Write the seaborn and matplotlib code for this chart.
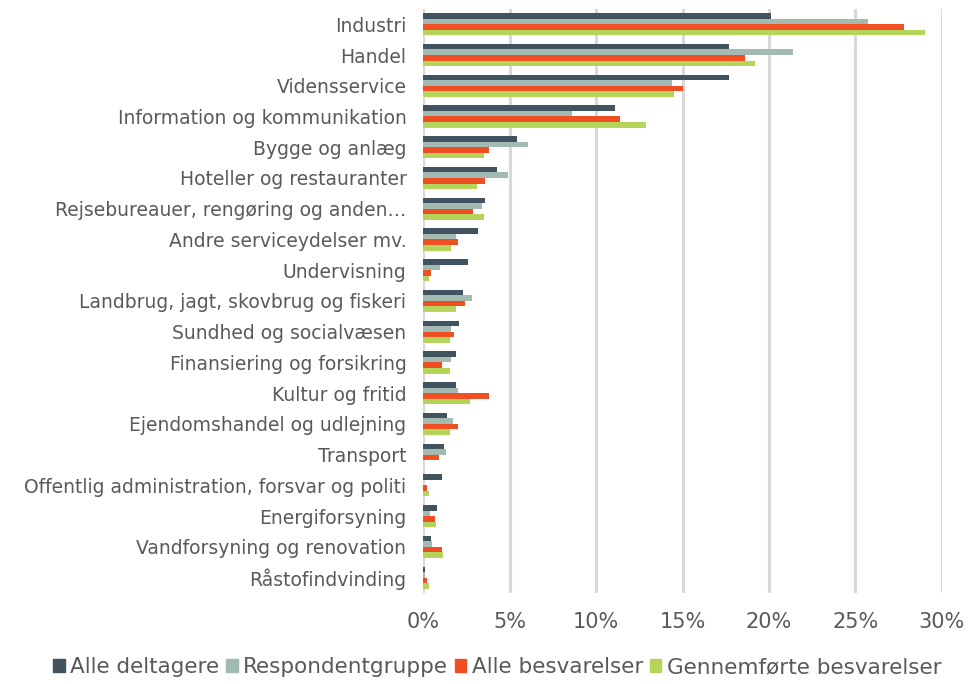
import matplotlib
matplotlib.use("Agg")
import matplotlib.pyplot as plt
import matplotlib.ticker as mticker
import pandas as pd
import seaborn as sns

categories = [
    "Industri", "Handel", "Vidensservice", "Information og kommunikation",
    "Bygge og anlæg", "Hoteller og restauranter",
    "Rejsebureauer, rengøring og anden…", "Andre serviceydelser mv.",
    "Undervisning", "Landbrug, jagt, skovbrug og fiskeri",
    "Sundhed og socialvæsen", "Finansiering og forsikring",
    "Kultur og fritid", "Ejendomshandel og udlejning", "Transport",
    "Offentlig administration, forsvar og politi", "Energiforsyning",
    "Vandforsyning og renovation", "Råstofindvinding",
]
series = ["Alle deltagere", "Respondentgruppe", "Alle besvarelser",
          "Gennemførte besvarelser"]

alle_deltagere = [20.1, 17.7, 17.7, 11.1, 5.4, 4.3, 3.6, 3.2, 2.6, 2.3,
                  2.1, 1.9, 1.9, 1.4, 1.2, 1.1, 0.8, 0.45, 0.08]
respondentgruppe = [25.7, 21.4, 14.4, 8.6, 6.05, 4.9, 3.4, 1.9, 1.0, 2.8,
                    1.6, 1.6, 2.0, 1.7, 1.3, 0.0, 0.4, 0.5, 0.1]
alle_besvarelser = [27.8, 18.6, 15.0, 11.4, 3.8, 3.6, 2.9, 2.0, 0.45, 2.4,
                    1.8, 1.1, 3.8, 2.0, 0.9, 0.2, 0.67, 1.1, 0.2]
gennemforte = [29.0, 19.2, 14.5, 12.9, 3.5, 3.1, 3.5, 1.6, 0.35, 1.9,
               1.55, 1.55, 2.7, 1.55, 0.0, 0.35, 0.75, 1.15, 0.35]

colors = ["#41535f", "#a2bab2", "#f04e23", "#b4d45a"]

values = [alle_deltagere, respondentgruppe, alle_besvarelser, gennemforte]
rows = []
for s, vals in zip(series, values):
    for c, v in zip(categories, vals):
        rows.append({"kategori": c, "serie": s, "andel": v})
df = pd.DataFrame(rows)

sns.set_style("white")
plt.rcParams["font.family"] = ["DejaVu Sans"]

fig = plt.figure(figsize=(9.75, 6.84), dpi=100)
ax = fig.add_axes([0.434, 0.133, 0.532, 0.854])

sns.barplot(data=df, y="kategori", x="andel", hue="serie", order=categories,
            hue_order=series, palette=colors, orient="h", width=0.72,
            saturation=1, linewidth=0, ax=ax, legend=False)

ax.set_xlim(0, 30)
ax.set_xticks(range(0, 31, 5))
ax.xaxis.set_major_formatter(mticker.FuncFormatter(lambda v, p: f"{v:.0f}%"))
ax.grid(axis="x", color="#d9d9d9", linewidth=2.2)
ax.set_axisbelow(True)
for sp in ax.spines.values():
    sp.set_visible(False)
ax.set_xlabel("")
ax.set_ylabel("")
ax.tick_params(axis="y", length=0, pad=12, labelsize=13.5, labelcolor="#595959")
ax.tick_params(axis="x", length=0, pad=14, labelsize=15, labelcolor="#595959")

handles = [plt.Rectangle((0, 0), 1, 1, color=c) for c in colors]
fig.legend(handles, series, loc="lower center", bbox_to_anchor=(0.51, -0.018),
           ncol=4, frameon=False, fontsize=15.5, handlelength=0.55,
           handleheight=0.55, handletextpad=0.25, columnspacing=0.3,
           labelcolor="#595959")

fig.savefig("out.png", dpi=100)
